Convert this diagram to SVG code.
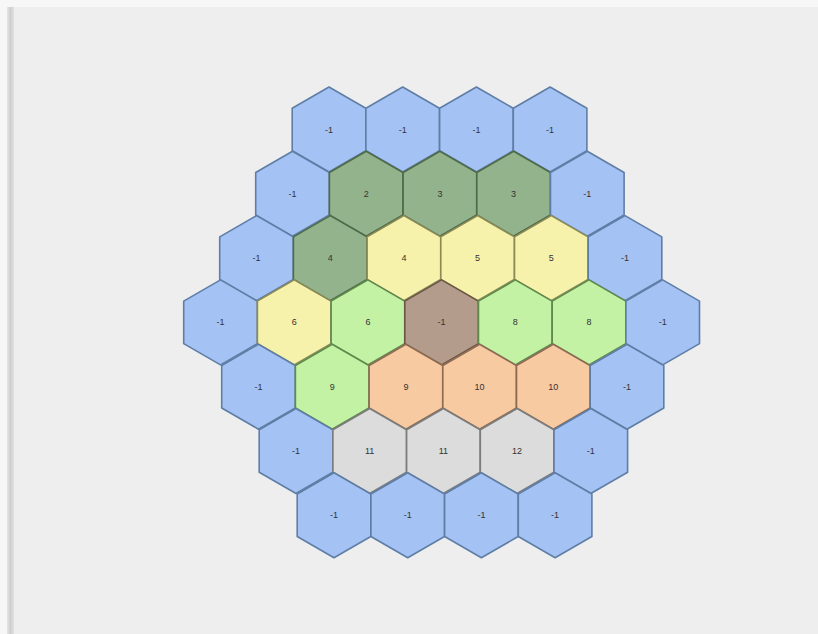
<svg xmlns="http://www.w3.org/2000/svg" xmlns:xlink="http://www.w3.org/1999/xlink" width="818" height="634" viewBox="0 0 818 634">
<style>
.hex{stroke-width:1.6;stroke-linejoin:round}
.b{fill:#a4c2f4;stroke:#5f7ea6}
.dg{fill:#93b38c;stroke:#4f6b4a}
.y{fill:#f6f2ab;stroke:#8c8a55}
.lg{fill:#c4f2a4;stroke:#5f8a4c}
.br{fill:#b39c8c;stroke:#6b5645}
.o{fill:#f8caa2;stroke:#8c6b52}
.g{fill:#dcdcdc;stroke:#7c7c7c}
text{font-family:"Liberation Sans",Arial,sans-serif;font-size:9px;fill:#333;text-anchor:middle;dominant-baseline:central}
</style>
<defs>
<polygon id="hx" points="0,-42.5 36.8,-21.25 36.8,21.25 0,42.5 -36.8,21.25 -36.8,-21.25"/>
<linearGradient id="edge" x1="0" x2="1" y1="0" y2="0">
<stop offset="0" stop-color="#e6e6e6"/><stop offset="0.5" stop-color="#cfcfcf"/><stop offset="1" stop-color="#e2e2e2"/>
</linearGradient>
</defs>
<rect width="818" height="634" fill="#f7f7f7"/>
<rect x="7" y="7" width="811" height="627" fill="#eeeeee"/>
<rect x="7" y="7" width="7" height="627" fill="url(#edge)"/>
<g id="connectors"/>
<g id="r0">
<g id="h0_0" transform="translate(329,129.5)"><use href="#hx" class="hex b"/><text>-1</text></g>
<g id="h0_1" transform="translate(402.7,129.5)"><use href="#hx" class="hex b"/><text>-1</text></g>
<g id="h0_2" transform="translate(476.4,129.5)"><use href="#hx" class="hex b"/><text>-1</text></g>
<g id="h0_3" transform="translate(550.1,129.5)"><use href="#hx" class="hex b"/><text>-1</text></g>
</g>
<g id="r1">
<g id="h1_0" transform="translate(292.5,193.8)"><use href="#hx" class="hex b"/><text>-1</text></g>
<g id="h1_1" transform="translate(366.2,193.8)"><use href="#hx" class="hex dg"/><text>2</text></g>
<g id="h1_2" transform="translate(439.9,193.8)"><use href="#hx" class="hex dg"/><text>3</text></g>
<g id="h1_3" transform="translate(513.6,193.8)"><use href="#hx" class="hex dg"/><text>3</text></g>
<g id="h1_4" transform="translate(587.3,193.8)"><use href="#hx" class="hex b"/><text>-1</text></g>
</g>
<g id="r2">
<g id="h2_0" transform="translate(256.5,258.1)"><use href="#hx" class="hex b"/><text>-1</text></g>
<g id="h2_1" transform="translate(330.2,258.1)"><use href="#hx" class="hex dg"/><text>4</text></g>
<g id="h2_2" transform="translate(403.9,258.1)"><use href="#hx" class="hex y"/><text>4</text></g>
<g id="h2_3" transform="translate(477.6,258.1)"><use href="#hx" class="hex y"/><text>5</text></g>
<g id="h2_4" transform="translate(551.3,258.1)"><use href="#hx" class="hex y"/><text>5</text></g>
<g id="h2_5" transform="translate(625,258.1)"><use href="#hx" class="hex b"/><text>-1</text></g>
</g>
<g id="r3">
<g id="h3_0" transform="translate(220.5,322.4)"><use href="#hx" class="hex b"/><text>-1</text></g>
<g id="h3_1" transform="translate(294.2,322.4)"><use href="#hx" class="hex y"/><text>6</text></g>
<g id="h3_2" transform="translate(367.9,322.4)"><use href="#hx" class="hex lg"/><text>6</text></g>
<g id="h3_3" transform="translate(441.6,322.4)"><use href="#hx" class="hex br"/><text>-1</text></g>
<g id="h3_4" transform="translate(515.3,322.4)"><use href="#hx" class="hex lg"/><text>8</text></g>
<g id="h3_5" transform="translate(589,322.4)"><use href="#hx" class="hex lg"/><text>8</text></g>
<g id="h3_6" transform="translate(662.7,322.4)"><use href="#hx" class="hex b"/><text>-1</text></g>
</g>
<g id="r4">
<g id="h4_0" transform="translate(258.5,386.7)"><use href="#hx" class="hex b"/><text>-1</text></g>
<g id="h4_1" transform="translate(332.2,386.7)"><use href="#hx" class="hex lg"/><text>9</text></g>
<g id="h4_2" transform="translate(405.9,386.7)"><use href="#hx" class="hex o"/><text>9</text></g>
<g id="h4_3" transform="translate(479.6,386.7)"><use href="#hx" class="hex o"/><text>10</text></g>
<g id="h4_4" transform="translate(553.3,386.7)"><use href="#hx" class="hex o"/><text>10</text></g>
<g id="h4_5" transform="translate(627,386.7)"><use href="#hx" class="hex b"/><text>-1</text></g>
</g>
<g id="r5">
<g id="h5_0" transform="translate(296,451)"><use href="#hx" class="hex b"/><text>-1</text></g>
<g id="h5_1" transform="translate(369.7,451)"><use href="#hx" class="hex g"/><text>11</text></g>
<g id="h5_2" transform="translate(443.4,451)"><use href="#hx" class="hex g"/><text>11</text></g>
<g id="h5_3" transform="translate(517.1,451)"><use href="#hx" class="hex g"/><text>12</text></g>
<g id="h5_4" transform="translate(590.8,451)"><use href="#hx" class="hex b"/><text>-1</text></g>
</g>
<g id="r6">
<g id="h6_0" transform="translate(334,515.3)"><use href="#hx" class="hex b"/><text>-1</text></g>
<g id="h6_1" transform="translate(407.7,515.3)"><use href="#hx" class="hex b"/><text>-1</text></g>
<g id="h6_2" transform="translate(481.4,515.3)"><use href="#hx" class="hex b"/><text>-1</text></g>
<g id="h6_3" transform="translate(555.1,515.3)"><use href="#hx" class="hex b"/><text>-1</text></g>
</g>
</svg>
